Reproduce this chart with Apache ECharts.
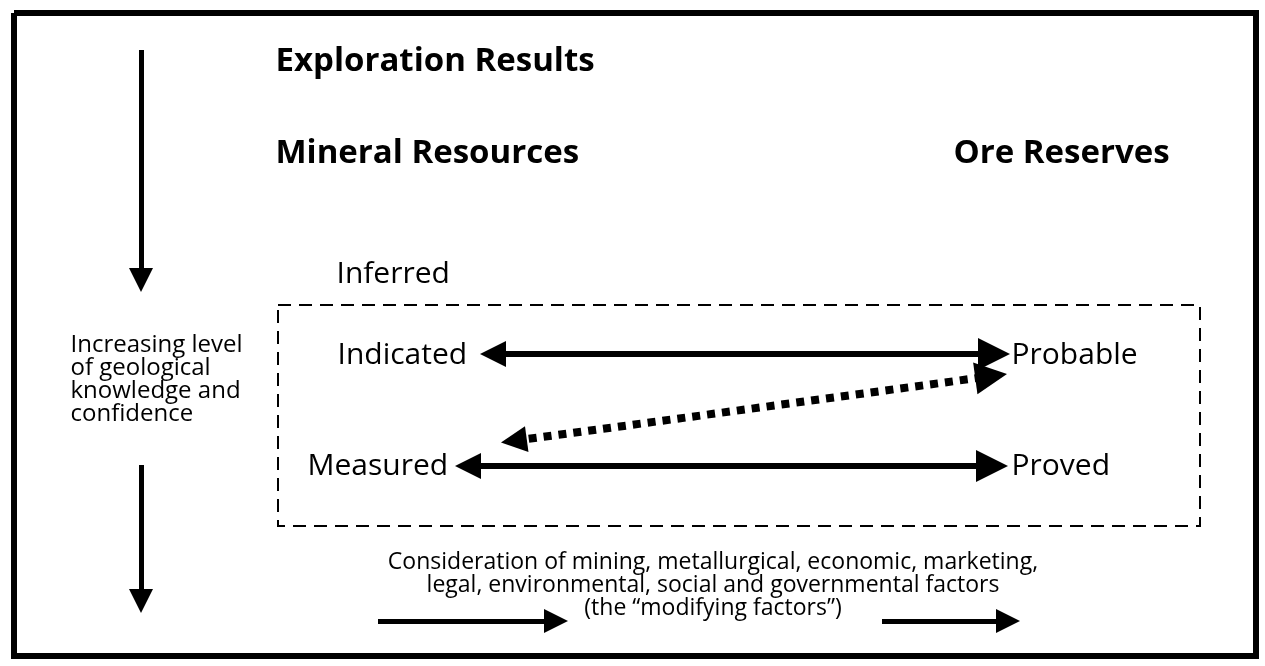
<!DOCTYPE html>
<html>
<head>
<meta charset="utf-8">
<script src="https://cdn.jsdelivr.net/npm/echarts@6/dist/echarts.min.js"></script>
<style>html,body{margin:0;padding:0;background:#fff}#c{width:1265px;height:666px}</style>
</head>
<body>
<div id="c"></div>
<script>
// ---- diagram data (page-pixel coordinate space, y downward) ----
const textLabels = ['Exploration Results', 'Mineral Resources', 'Ore Reserves', 'Inferred', 'Indicated', 'Probable', 'Measured', 'Proved',
  'Increasing level\nof geological\nknowledge and\nconfidence',
  'Consideration of mining, metallurgical, economic, marketing,\nlegal, environmental, social and governmental factors\n(the \u201cmodifying factors\u201d)'];
const textX = [275, 275, 953, 336, 337, 1011, 307, 1011, 70, 713];
const textY = [62, 154, 154, 274, 355, 355, 466, 466, 380, 585];
const textSize = [33, 33, 33, 30, 30, 30, 30, 30, 24, 23];
const textLineH = [40, 40, 40, 36, 36, 36, 36, 36, 23, 23];
const textBold = [true, true, true, false, false, false, false, false, false, false];
const textCenter = [false, false, false, false, false, false, false, false, false, true];

// outer frame and dashed box corners [x1, y1, x2, y2]
const frameBox = [14, 13, 1256, 656];
const dashedBox = [278, 305, 1200, 526];

// double-headed solid arrows: [xTipFrom, yTipFrom, xTipTo, yTipTo]
const doubleArrows = [[477, 354, 1010, 354], [452, 466, 1008, 466]];
// double-headed dotted arrow
const dottedArrows = [[498, 443, 1007, 374]];
// single-headed arrows
const singleArrows = [[141, 50, 141, 292], [141, 465, 141, 613], [378, 621, 568, 621], [882, 621, 1020, 621]];

const headLen = 32, headWid = 26;
const smallHeadLen = 24, smallHeadWid = 20;

function shorten(a, fromHead, toHead) {
  const dx = a[2] - a[0], dy = a[3] - a[1];
  const L = Math.sqrt(dx * dx + dy * dy);
  const ux = dx / L, uy = dy / L;
  const s = fromHead / 2, e = toHead / 2;
  return [[a[0] + ux * s, a[1] + uy * s], [a[2] - ux * e, a[3] - uy * e]];
}
function boxPath(b) {
  return [[b[0], b[1]], [b[2], b[1]], [b[2], b[3]], [b[0], b[3]], [b[0], b[1]]];
}

const FONT = "'Open Sans', 'Noto Sans', sans-serif";

const textData = textLabels.map((t, i) => ({
  value: [textX[i], textY[i]],
  label: {
    show: true,
    formatter: t,
    position: textCenter[i] ? 'inside' : 'right',
    distance: 0,
    align: textCenter[i] ? 'center' : 'left',
    verticalAlign: 'middle',
    fontFamily: FONT,
    fontSize: textSize[i],
    fontWeight: textBold[i] ? 'bold' : 'normal',
    lineHeight: textLineH[i],
    color: '#000000',
    opacity: 1,
    textBorderWidth: 0,
    textShadowBlur: 0
  }
}));

const chart = echarts.init(document.getElementById('c'), null, { renderer: 'canvas' });
chart.setOption({
  animation: false,
  backgroundColor: '#fff',
  grid: { left: 0, right: 0, top: 0, bottom: 0 },
  xAxis: { type: 'value', min: 0, max: 1265, show: false },
  yAxis: { type: 'value', min: 0, max: 666, inverse: true, show: false },
  series: [
    {
      type: 'lines', coordinateSystem: 'cartesian2d', polyline: true, silent: true,
      symbol: 'none',
      lineStyle: { color: '#000', width: 6, opacity: 1, join: 'miter' },
      data: [{ coords: boxPath(frameBox) }]
    },
    {
      type: 'lines', coordinateSystem: 'cartesian2d', polyline: true, silent: true,
      symbol: 'none',
      lineStyle: { color: '#000', width: 2, opacity: 1, type: [13, 8] },
      data: [{ coords: boxPath(dashedBox) }]
    },
    {
      type: 'lines', coordinateSystem: 'cartesian2d', silent: true,
      symbol: ['triangle', 'triangle'], symbolSize: [headWid, headLen],
      lineStyle: { color: '#000', width: 6, opacity: 1 },
      data: doubleArrows.map(a => ({ coords: shorten(a, headLen, headLen) }))
    },
    {
      type: 'lines', coordinateSystem: 'cartesian2d', silent: true,
      symbol: ['triangle', 'triangle'], symbolSize: [headWid, headLen],
      lineStyle: { color: '#000', width: 8, opacity: 1, type: [8, 7], cap: 'butt' },
      data: dottedArrows.map(a => ({ coords: shorten(a, headLen, headLen) }))
    },
    {
      type: 'lines', coordinateSystem: 'cartesian2d', silent: true,
      symbol: ['none', 'triangle'], symbolSize: [smallHeadWid, smallHeadLen],
      lineStyle: { color: '#000', width: 5, opacity: 1 },
      data: singleArrows.map(a => ({ coords: shorten(a, 0, smallHeadLen) }))
    },
    {
      type: 'scatter', silent: true, symbolSize: 1,
      itemStyle: { color: 'rgba(0,0,0,0)' },
      emphasis: { disabled: true },
      data: textData
    }
  ]
});
</script>
</body>
</html>
